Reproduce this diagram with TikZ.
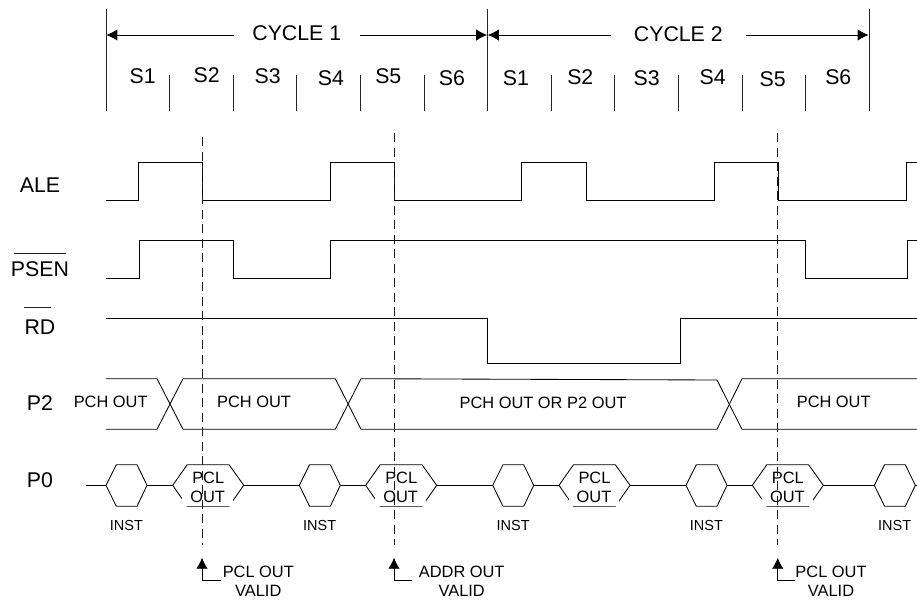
\documentclass[tikz,border=0pt]{standalone}
\usepackage{fontspec}
\setmainfont{Liberation Sans}
\usetikzlibrary{arrows.meta}

\begin{document}
\begin{tikzpicture}[
  x=1pt,
  y=-1pt,
  line join=miter,
  signal/.style={draw=black,line width=0.85pt},
  tickline/.style={draw=black!85,line width=0.85pt},
  guide/.style={draw=black!90,line width=0.85pt,dash pattern=on 9pt off 5.5pt},
  cyclearrow/.style={draw=black,line width=0.85pt,-{Latex[length=11pt,width=11.5pt]}},
  validarrow/.style={draw=black,line width=0.85pt,-{Latex[length=11pt,width=11.5pt]}},
  biglabel/.style={inner sep=0pt,font=\fontsize{21.3}{24}\selectfont},
  busfont/.style={inner sep=0pt,font=\fontsize{16.4}{19.3}\selectfont},
  instfont/.style={inner sep=0pt,font=\fontsize{14.5}{17}\selectfont},
  validlabel/.style={busfont,align=center,inner ysep=0pt}
]
  \useasboundingbox (0,0) rectangle (917,602);

  \newcommand{\drawinstcell}[1]{%
    \filldraw[signal,fill=white] (#1,485.3) -- ({#1+10.3},464.7) -- ({#1+31},464.7) -- ({#1+41},485.3)
      -- ({#1+31},506.3) -- ({#1+10.3},506.3) -- cycle;
  }
  \newcommand{\drawpclcell}[1]{%
    \filldraw[signal,fill=white] (#1,485.3) -- ({#1+14.5},464.7) -- ({#1+56.3},464.7) -- ({#1+71},485.3)
      -- ({#1+56.3},506.3) -- ({#1+14.5},506.3) -- cycle;
  }

  % Cycle boundaries and state ticks.
  \foreach \x in {106,487.5,869} {
    \draw[tickline] (\x,9) -- (\x,111);
  }
  \foreach \x in {169.5,233.3,296.7,360.3,424,551,614.7,678.7,742,805.7} {
    \draw[tickline] (\x,75) -- (\x,111);
  }

  % Cycle headings.
  \coordinate (c1start) at (106.4,35);
  \coordinate (c1end) at (487.1,35);
  \coordinate (c2start) at (487.9,35);
  \coordinate (c2end) at (868.6,35);
  \node[biglabel,inner xsep=18.2pt] (cycle1) at (296.8,33) {CYCLE 1};
  \node[biglabel,inner xsep=23pt] (cycle2) at (678.3,34) {CYCLE 2};
  \draw[cyclearrow] (cycle1.west |- c1start) -- (c1start);
  \draw[cyclearrow] (cycle1.east |- c1end) -- (c1end);
  \draw[cyclearrow] (cycle2.west |- c2start) -- (c2start);
  \draw[cyclearrow] (cycle2.east |- c2end) -- (c2end);

  % State names.
  \foreach \x/\y/\t/\n in {142.7/76.3/S1/a,206.7/75.3/S2/b,267.7/76.3/S3/c,331/77.7/S4/d,388.3/76.3/S5/e,452/77.7/S6/f,
    516/78/S1/g,580.3/77.5/S2/h,646.7/77.7/S3/i,712.7/77.5/S4/j,772.7/78.7/S5/k,838.3/77.5/S6/l} {
    \node[biglabel] (state\n) at (\x,\y) {\t};
  }

  % Signal names.
  \node[biglabel] (ale) at (40,185) {ALE};
  \node[biglabel] (psen) at (40,269) {PSEN};
  \node[biglabel] (rd) at (40,326.7) {RD};
  \node[biglabel] (ptwo) at (40,403.3) {P2};
  \node[biglabel] (pzero) at (40,480) {P0};
  \draw[tickline] (14,253.3) -- (65.7,253.3);
  \draw[tickline] (24,307.7) -- (51,307.7);

  % ALE, PSEN and RD waveforms.
  \draw[signal] (106,200.3) -| (138.5,162) -| (202,200.3) -| (330,162) -| (394,200.3) -| (521.7,162)
    -| (586.3,200.3) -| (714,162) -| (778,200.3) -| (906.3,162) -- (917,162);
  \draw[signal] (106,278.5) -| (139.5,240) -| (233.3,278.5) -| (330,240) -| (805.7,278.5) -| (907,240) -- (917,240);
  \draw[signal] (106,318.3) -| (487.7,363.5) -| (680.7,318.3) -- (917,318.3);

  % P2 bus.
  \draw[signal] (106,378.7) -- (157,378.7) -- (183,429.3) -- (335.3,429.3) -- (361,378.7) -- (717,380)
    -- (742,429.3) -- (917,429.3);
  \draw[signal] (106,429.3) -- (157,429.3) -- (183,378.7) -- (335.3,378.7) -- (361,429.3) -- (717,429.3)
    -- (742,378.7) -- (917,378.7);
  \node[busfont] (pch1) at (110.7,402.3) {PCH OUT};
  \node[busfont] (pch2) at (254,402.3) {PCH OUT};
  \node[busfont] (pch3) at (543,403.3) {PCH OUT OR P2 OUT};
  \node[busfont] (pch4) at (833.7,402.3) {PCH OUT};

  % P0 bus.
  \draw[signal] (85.5,485.3) -- (917,485.3);
  \foreach \x [count=\i] in {106,299.3,492.7,686,874.3} {
    \drawinstcell{\x}
    \node[instfont] (inst\i) at ({\x+20.4},525.7) {INST};
  }
  \foreach \x [count=\i] in {172.7,365.7,559,752.3} {
    \drawpclcell{\x}
    \node[busfont] (pcl\i) at ({\x+35.5},477.7) {PCL};
    \node[busfont,fill=white,inner xsep=8pt,inner ysep=3pt] (out\i) at ({\x+35},496.7) {OUT};
  }

  % Validity markers.
  \foreach \x/\n in {202/a,394/b,777.7/c} {
    \coordinate (tip\n) at (\x,557.7);
  }
  \draw[guide] (202,137) -- (202,545);
  \draw[guide] (394,133) -- (394,545);
  \draw[guide] (777.7,133) -- (777.7,545);

  \node[validlabel,inner xsep=2pt] (valida) at (258.3,581.4) {PCL OUT\\VALID};
  \node[validlabel,inner xsep=6.6pt] (validb) at (461.7,581.4) {ADDR OUT\\VALID};
  \node[validlabel,inner xsep=0pt] (validc) at (831,581.4) {PCL OUT\\VALID};
  \draw[validarrow] ([yshift=1.3pt]valida.west) -| (tipa);
  \draw[validarrow] ([yshift=1.3pt]validb.west) -| (tipb);
  \draw[validarrow] ([yshift=1.3pt]validc.west) -| (tipc);
\end{tikzpicture}
\end{document}
